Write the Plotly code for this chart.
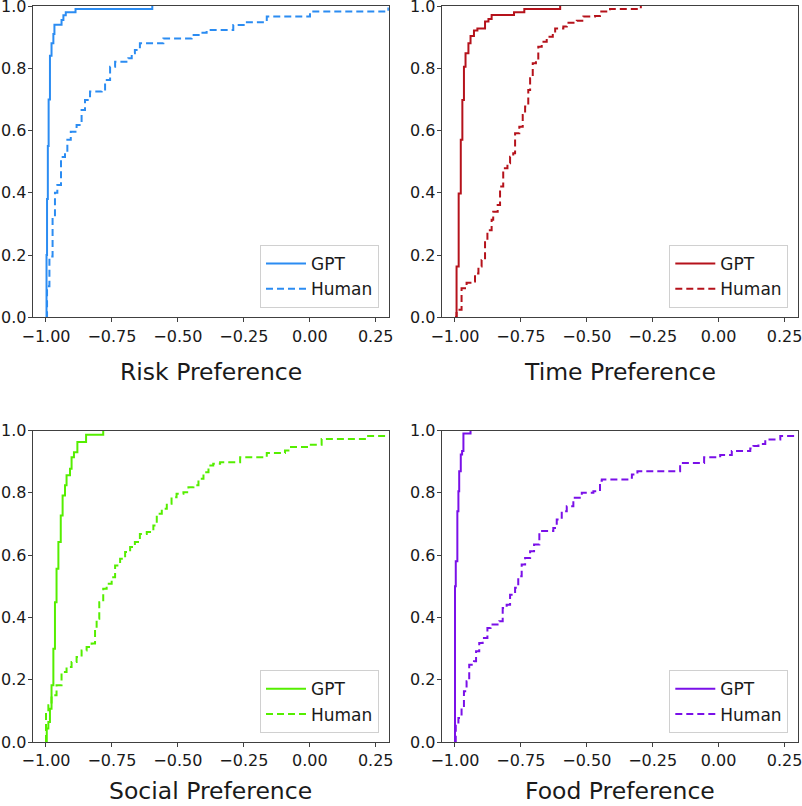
import plotly.graph_objects as go

# ---------------- data (ECDF step points) ----------------
panel_titles = ["Risk Preference", "Time Preference", "Social Preference", "Food Preference"]
series_names = ["GPT", "Human"]
x_ticks = [-1.0, -0.75, -0.5, -0.25, 0.0, 0.25]
y_ticks = [0.0, 0.2, 0.4, 0.6, 0.8, 1.0]

risk_gpt_x = [-1.0, -0.998, -0.996, -0.993, -0.990, -0.985, -0.979, -0.972, -0.968, -0.941, -0.934, -0.925, -0.888, -0.597]
risk_gpt_y = [0.0, 0.2, 0.38, 0.55, 0.70, 0.84, 0.88, 0.91, 0.94, 0.955, 0.97, 0.98, 0.99, 1.0]
risk_human_x = [-1.0, -0.996, -0.987, -0.975, -0.966, -0.957, -0.943, -0.928, -0.919, -0.906, -0.884, -0.865,
                -0.852, -0.833, -0.789, -0.776, -0.757, -0.738, -0.688, -0.675, -0.663, -0.644, -0.555, -0.448,
                -0.416, -0.391, -0.290, -0.245, -0.163, 0.001, 0.298, 0.35]
risk_human_y = [0.0, 0.10, 0.195, 0.32, 0.40, 0.425, 0.515, 0.527, 0.57, 0.596, 0.618, 0.666,
                0.698, 0.725, 0.732, 0.762, 0.805, 0.821, 0.832, 0.848, 0.859, 0.88, 0.896, 0.907,
                0.914, 0.923, 0.939, 0.948, 0.966, 0.982, 0.992, 0.992]

time_gpt_x = [-1.0, -0.994, -0.986, -0.978, -0.972, -0.966, -0.960, -0.949, -0.941, -0.928, -0.915, -0.886,
              -0.873, -0.861, -0.776, -0.737, -0.601]
time_gpt_y = [0.0, 0.163, 0.398, 0.570, 0.698, 0.805, 0.848, 0.880, 0.904, 0.921, 0.928, 0.950,
              0.958, 0.971, 0.980, 0.990, 1.0]
time_human_x = [-1.0, -0.994, -0.975, -0.956, -0.937, -0.924, -0.911, -0.899, -0.886, -0.877, -0.861, -0.855,
                -0.838, -0.829, -0.817, -0.801, -0.791, -0.779, -0.772, -0.756, -0.743, -0.734, -0.722, -0.715,
                -0.705, -0.693, -0.684, -0.671, -0.652, -0.629, -0.620, -0.589, -0.576, -0.538, -0.513, -0.469,
                -0.450, -0.412, -0.295]
time_human_y = [0.0, 0.024, 0.093, 0.111, 0.115, 0.141, 0.163, 0.184, 0.248, 0.28, 0.313, 0.339,
                0.361, 0.42, 0.479, 0.495, 0.516, 0.527, 0.591, 0.612, 0.65, 0.677, 0.73, 0.768,
                0.816, 0.827, 0.869, 0.885, 0.901, 0.918, 0.928, 0.934, 0.946, 0.953, 0.966, 0.968,
                0.982, 0.99, 1.0]

social_gpt_x = [-1.0, -0.997, -0.991, -0.985, -0.979, -0.972, -0.966, -0.960, -0.953, -0.944, -0.937, -0.928,
                -0.922, -0.909, -0.903, -0.894, -0.881, -0.848, -0.783]
social_gpt_y = [0.0, 0.043, 0.064, 0.107, 0.182, 0.299, 0.449, 0.556, 0.642, 0.727, 0.791, 0.824,
                0.856, 0.877, 0.914, 0.930, 0.963, 0.986, 1.0]
social_human_x = [-1.0, -1.0, -0.991, -0.979, -0.960, -0.941, -0.922, -0.903, -0.884, -0.865, -0.846, -0.827,
                  -0.814, -0.808, -0.798, -0.783, -0.770, -0.751, -0.738, -0.719, -0.700, -0.681, -0.663, -0.644,
                  -0.618, -0.593, -0.580, -0.561, -0.542, -0.524, -0.505, -0.479, -0.460, -0.441, -0.422, -0.403,
                  -0.384, -0.366, -0.340, -0.264, -0.163, -0.094, -0.075, -0.005, 0.045, 0.213, 0.35]
social_human_y = [0.0, 0.096, 0.118, 0.150, 0.182, 0.225, 0.241, 0.257, 0.273, 0.294, 0.305, 0.316,
                  0.364, 0.396, 0.449, 0.492, 0.508, 0.529, 0.567, 0.588, 0.610, 0.626, 0.642, 0.668,
                  0.674, 0.695, 0.733, 0.749, 0.765, 0.786, 0.797, 0.802, 0.818, 0.824, 0.845, 0.866,
                  0.888, 0.893, 0.898, 0.914, 0.928, 0.936, 0.947, 0.954, 0.973, 0.982, 0.982]

food_gpt_x = [-1.0, -1.0, -0.997, -0.991, -0.987, -0.984, -0.978, -0.973, -0.968, -0.941]
food_gpt_y = [0.0, 0.5, 0.58, 0.741, 0.805, 0.869, 0.923, 0.934, 0.99, 1.0]
food_human_x = [-1.0, -0.997, -0.987, -0.975, -0.966, -0.956, -0.946, -0.928, -0.920, -0.908, -0.895, -0.877,
                -0.865, -0.832, -0.819, -0.804, -0.791, -0.772, -0.760, -0.747, -0.734, -0.715, -0.700, -0.680,
                -0.627, -0.614, -0.595, -0.576, -0.551, -0.519, -0.475, -0.450, -0.443, -0.338, -0.329, -0.308,
                -0.146, -0.055, 0.006, 0.050, 0.120, 0.132, 0.151, 0.177, 0.234, 0.35]
food_human_y = [0.0, 0.056, 0.077, 0.109, 0.163, 0.195, 0.248, 0.259, 0.291, 0.318, 0.334, 0.366,
                0.377, 0.388, 0.430, 0.441, 0.473, 0.495, 0.532, 0.570, 0.591, 0.612, 0.634, 0.677,
                0.687, 0.714, 0.741, 0.757, 0.784, 0.800, 0.805, 0.839, 0.843, 0.848, 0.859, 0.869,
                0.896, 0.914, 0.921, 0.934, 0.942, 0.950, 0.957, 0.971, 0.982, 0.982]

panel_colors = ["#2b8cf2", "#b5121b", "#55ee00", "#7a10e8"]

panels = [
    (risk_gpt_x, risk_gpt_y, risk_human_x, risk_human_y),
    (time_gpt_x, time_gpt_y, time_human_x, time_human_y),
    (social_gpt_x, social_gpt_y, social_human_x, social_human_y),
    (food_gpt_x, food_gpt_y, food_human_x, food_human_y),
]

# ---------------- layout geometry ----------------
W, H = 802, 806
x_domains = [[32.8 / W, 388.9 / W], [441.8 / W, 797.7 / W]]
y_domains = [[1 - 317.3 / H, 1 - 6 / H], [1 - 742 / H, 1 - 430.5 / H]]
FONT = "DejaVu Sans"

fig = go.Figure()
layout = dict(
    width=W, height=H,
    margin=dict(l=0, r=0, t=0, b=0),
    paper_bgcolor="white", plot_bgcolor="white",
    font=dict(family=FONT, color="#1a1a1a"),
    annotations=[],
)

for i, (gx, gy, hx, hy) in enumerate(panels):
    row, col = divmod(i, 2)
    ax = "" if i == 0 else str(i + 1)
    leg = "legend" if i == 0 else "legend" + str(i + 1)
    col_c = panel_colors[i]
    fig.add_trace(go.Scatter(x=gx, y=gy, mode="lines", line=dict(color=col_c, width=2, shape="hv"),
                             name=series_names[0], xaxis="x" + ax, yaxis="y" + ax, legend=leg))
    fig.add_trace(go.Scatter(x=hx, y=hy, mode="lines",
                             line=dict(color=col_c, width=2, shape="hv", dash="7px,4px"),
                             name=series_names[1], xaxis="x" + ax, yaxis="y" + ax, legend=leg))
    axis_common = dict(showgrid=False, zeroline=False, showline=True, mirror=True, automargin=False,
                       ticklabeloverflow="allow",
                       linecolor="#404040", linewidth=1.2, ticks="outside", ticklen=4,
                       tickcolor="#404040", tickfont=dict(family=FONT, size=16, color="#1a1a1a"))
    layout["xaxis" + ax] = dict(domain=x_domains[col], range=[-1.05, 0.3], tickvals=x_ticks,
                                tickformat=".2f", anchor="y" + ax, **axis_common)
    layout["yaxis" + ax] = dict(domain=y_domains[row], range=[0, 1.0], tickvals=y_ticks,
                                tickformat=".1f", anchor="x" + ax, ticklabelstandoff=-2, **axis_common)
    lx = (379 if col == 0 else 788.3) / W
    ly = (1 - 308 / H) if row == 0 else (1 - 733.3 / H)
    layout[leg] = dict(x=lx, y=ly, xanchor="right", yanchor="bottom",
                       bgcolor="rgba(255,255,255,0.85)", bordercolor="#d0d0d0", borderwidth=1,
                       font=dict(family=FONT, size=17, color="#1a1a1a"), itemwidth=40,
                       tracegroupgap=0)
    cx = sum(x_domains[col]) / 2
    cy = (1 - 372 / H) if row == 0 else (1 - 791 / H)
    layout["annotations"].append(dict(text=panel_titles[i], x=cx, y=cy, xref="paper", yref="paper",
                                      xanchor="center", yanchor="middle", showarrow=False,
                                      font=dict(family=FONT, size=23.5, color="#1a1a1a")))

fig.update_layout(**layout)
fig.write_html("out.html",
               config={"displayModeBar": False},
               post_script="document.body.style.margin='0';document.body.style.padding='0';"
                           "document.body.style.overflow='hidden';")
